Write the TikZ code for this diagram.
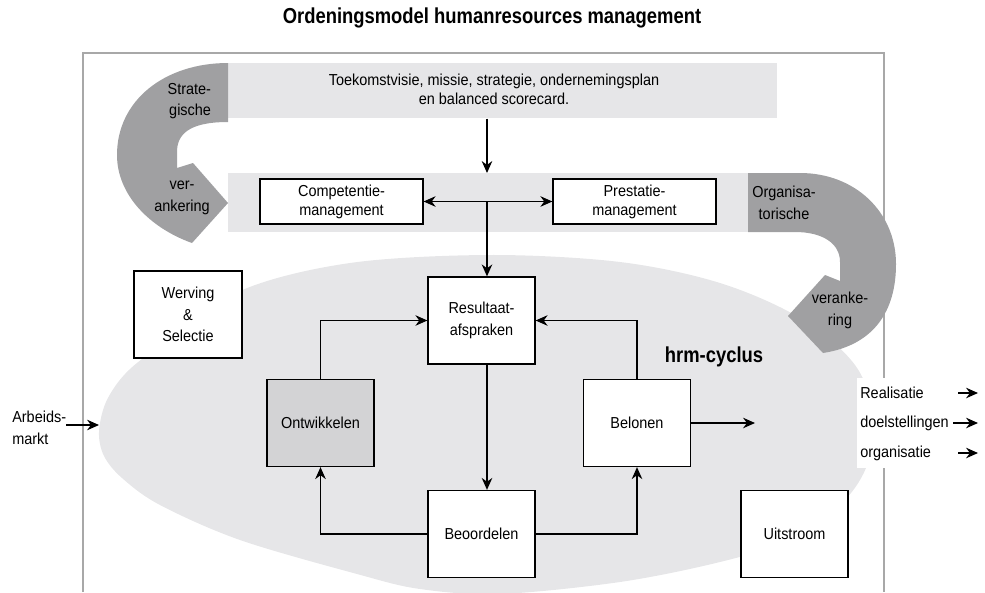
\documentclass[tikz,border=0pt]{standalone}
\usepackage{fontspec}
\setmainfont{Liberation Sans}[FakeStretch=0.91]
\newfontfamily\headfont{Liberation Sans}[FakeStretch=0.85]
\usepackage{tikz}
\usetikzlibrary{arrows.meta}

\definecolor{bandgray}{HTML}{E6E6E8}
\definecolor{arrowgray}{HTML}{A0A0A2}
\definecolor{boxgray}{HTML}{D3D3D5}
\definecolor{framegray}{HTML}{A8A8A8}

\tikzset{
  box/.style={draw, fill=white, line width=0.9pt, align=center, inner sep=0pt,
    minimum width=2.675cm, minimum height=2.175cm},
  widebox/.style={box, minimum width=4.075cm, minimum height=1.125cm,
    font=\fontsize{11.3}{13.5}\selectfont},
  band/.style={fill=bandgray, inner sep=0pt, anchor=north west},
  conn/.style={->, line width=0.9pt},
  heading/.style={font=\headfont\bfseries\fontsize{15.4}{18}\selectfont},
}

\begin{document}
\begin{tikzpicture}[x=0.025cm, y=-0.025cm, >={Stealth[length=8.5pt,width=7.5pt]},
  font=\fontsize{11.3}{15.5}\selectfont]
     \useasboundingbox (0,0) rectangle (985,592);

     % frame
     \draw[framegray, line width=1.1pt] (83,592) -- (83,53) -- (884,53) -- (884,592);

     % hrm-cyclus area
     \fill[bandgray] plot[smooth cycle, tension=0.55] coordinates {
       (99,432) (106,402) (125,374) (157,348) (240,291) (350,263) (490,255) (620,262)
       (720,283) (800,318) (855,365) (875,420) (866,468) (840,505) (790,540)
       (720,562) (620,582) (500,594) (420,589) (357,574) (240,540) (160,505)
       (122,478) (104,456)};

     % bands
     \node[band, minimum width=13.725cm, minimum height=1.375cm] (band1) at (228,63) {};
     \node[band, minimum width=13cm, minimum height=1.475cm] (band2) at (228,173) {};
     \node[align=center, font=\fontsize{11.3}{13.5}\selectfont] (vision) at (494,89)
       {Toekomstvisie, missie, strategie, ondernemingsplan\\en balanced scorecard.};

     % strategische verankering
     \fill[arrowgray] (228,63) -- (228,122) .. controls (188,122) and (177,135) .. (177,152)
       -- (177,168) -- (193,163) -- (228,203) -- (192,243)
       .. controls (150,228) and (117,195) .. (117,155)
       .. controls (117,100) and (165,63) .. (228,63) -- cycle;
     \node[align=right, anchor=east] (strat) at (216,101) {Strate-\\gische};
     \node[align=center] (veranker1) at (182,198) {ver-\\ankering};

     % organisatorische verankering
     \fill[arrowgray] (748,173) -- (800,173) .. controls (855,173) and (896,212) .. (896,264)
       .. controls (896,310) and (875,345) .. (823,353) -- (788,316) -- (825,275)
       -- (840,281) -- (840,262) .. controls (840,243) and (822,232) .. (795,232)
       -- (748,232) -- cycle;
     \node[align=center] (organ) at (784,203) {Organisa-\\torische};
     \node[align=center] (veranker2) at (840,310) {veranke-\\ring};

     % boxes
     \node[widebox] (comp) at (341.5,201.5) {Competentie-\\management};
     \node[widebox] (prest) at (634.5,201.5) {Prestatie-\\management};
     \node[box] (result) at (481.5,320.5) {Resultaat-\\afspraken};
     \node[box, fill=boxgray] (ontw) at (320.5,423) {Ontwikkelen};
     \node[box] (belon) at (637,423) {Belonen};
     \node[box] (beoord) at (481.5,534) {Beoordelen};
     \node[box, minimum width=2.7cm] (werving) at (188,314.5) {Werving\\\&\\Selectie};
     \node[box] (uitstroom) at (794.5,534) {Uitstroom};
     \node[heading] (hrm) at (714,357) {hrm-cyclus};
     \node[heading] (title) at (492,18) {Ordeningsmodel humanresources management};

     % connectors
     \coordinate (hub) at (487,202);
     \draw[conn] (band1.south -| hub) -- (band2.north -| hub);
     \draw[conn, <->] (comp.east) -- (prest.west);
     \draw[conn] (hub) -- (result.north -| hub);
     \draw[conn] (result.south -| hub) -- (beoord.north -| hub);
     \draw[conn] (ontw.north) |- (result.west);
     \draw[conn] (belon.north) |- (result.east);
     \draw[conn] (beoord.west) -| (ontw.south);
     \draw[conn] (beoord.east) -| (belon.south);
     \coordinate (outflow) at (755,423);
     \draw[conn] (belon.east) -- (outflow);

     % instroom
     \node[align=left, anchor=west, inner sep=0pt] (arbeid) at (12,428) {Arbeids-\\markt};
     \coordinate (cycW) at (99,425);
     \draw[conn] (arbeid.east |- cycW) -- (cycW);

     % uitkomst
     \fill[white] (857,378) rectangle (950,468);
     \node[anchor=west, inner sep=0pt] (real) at (860,393) {Realisatie};
     \node[anchor=west, inner sep=0pt] (doel) at (860,423) {doelstellingen};
     \node[anchor=west, inner sep=0pt] (org) at (860,453) {organisatie};
     \foreach \n/\s in {real/958, doel/953, org/958}
       \draw[conn] (\s,0 |- \n.east) -- (978,0 |- \n.east);
\end{tikzpicture}
\end{document}
